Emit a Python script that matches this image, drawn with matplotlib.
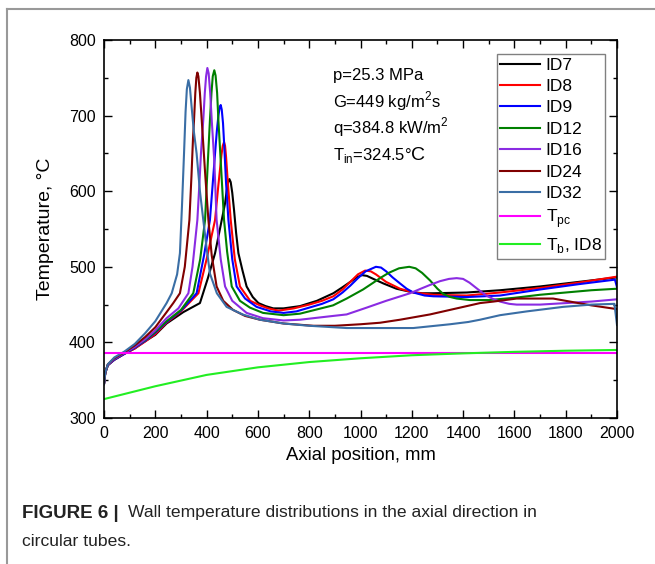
import matplotlib
matplotlib.use("Agg")
import matplotlib.pyplot as plt
from matplotlib.lines import Line2D
from matplotlib.ticker import MultipleLocator

plt.rcParams["font.family"] = ["Liberation Sans", "DejaVu Sans"]
plt.rcParams["mathtext.fontset"] = "custom"
plt.rcParams["mathtext.rm"] = "Liberation Sans"

# ===================== data =====================
id7_x = [0, 5, 15, 40, 80, 120, 153, 200, 244, 309, 374, 405, 433, 452, 472, 478, 483, 489, 494,
         500, 507, 515, 524, 540, 556, 580, 602, 630, 660, 700, 764, 830, 894, 930, 960, 985,
         1005, 1025, 1050, 1089, 1140, 1193, 1240, 1284, 1414, 1544, 1700, 1850, 2000]
id7_y = [345, 360, 370, 377, 385, 392, 400, 410, 425, 440, 452, 485, 518, 550, 584, 600, 611, 616, 612,
         598, 575, 545, 518, 495, 474, 460, 452, 448, 445, 445, 448, 455, 465, 473, 480, 486,
         489, 488, 484, 478, 471, 467, 465, 465, 466, 469, 474, 480, 486]

id8_x = [0, 5, 15, 40, 80, 120, 160, 200, 244, 300, 368, 400, 433, 445, 452, 458, 463, 468, 472,
         476, 482, 494, 510, 530, 570, 608, 640, 680, 740, 800, 850, 894, 930, 960, 990, 1018,
         1040, 1060, 1100, 1154, 1206, 1284, 1414, 1544, 1700, 1850, 2000]
id8_y = [345, 360, 370, 377, 385, 392, 401, 411, 426, 441, 465, 510, 562, 605, 628, 648, 660, 665, 660,
         645, 615, 562, 510, 474, 455, 449, 445, 442, 445, 450, 455, 461, 470, 480, 490, 495,
         494, 490, 480, 471, 466, 463, 462, 466, 472, 479, 487]

id9_x = [0, 5, 15, 40, 80, 120, 160, 200, 244, 300, 361, 390, 413, 425, 433, 440, 446, 451, 455,
         459, 464, 468, 476, 485, 500, 517, 550, 595, 650, 700, 750, 800, 850, 894, 930, 960,
         990, 1020, 1060, 1080, 1100, 1125, 1154, 1180, 1206, 1250, 1284, 1414, 1544, 1700,
         1850, 1992, 2000]
id9_y = [345, 360, 370, 377, 385, 393, 402, 413, 427, 442, 465, 515, 562, 615, 650, 680, 700, 711, 714,
         708, 690, 665, 610, 562, 510, 474, 458, 447, 441, 439, 441, 446, 451, 457, 466, 475,
         485, 494, 500, 499, 494, 486, 478, 471, 466, 462, 461, 460, 462, 470,
         477, 483, 473]

id12_x = [0, 5, 15, 40, 80, 120, 160, 200, 244, 300, 348, 375, 394, 405, 413, 419, 424, 430, 435,
          441, 446, 455, 468, 480, 498, 530, 569, 620, 700, 764, 893, 946, 1010, 1050, 1076,
          1110, 1150, 1190, 1215, 1240, 1271, 1300, 1323, 1350, 1375, 1427, 1500, 1600, 1700,
          1800, 1900, 2000]
id12_y = [345, 360, 370, 378, 386, 394, 403, 414, 428, 443, 465, 510, 562, 640, 694, 730, 752, 760, 753,
          730, 694, 640, 562, 520, 474, 455, 446, 439, 436, 438, 449, 458, 470, 479, 485,
          492, 498, 500, 498, 492, 482, 471, 464, 460, 458, 456, 456, 459, 463,
          466, 469, 471]

id16_x = [0, 5, 15, 40, 80, 120, 160, 200, 244, 290, 329, 345, 364, 372, 378, 387, 393, 398, 403,
          408, 414, 420, 430, 439, 455, 472, 500, 556, 620, 700, 764, 893, 946, 1024, 1100, 1193,
          1235, 1271, 1310, 1345, 1375, 1400, 1425, 1455, 1490, 1520, 1544, 1580, 1609, 1700,
          1800, 1900, 2000]
id16_y = [345, 360, 370, 378, 386, 394, 404, 416, 432, 445, 465, 500, 562, 610, 650, 694, 730, 752, 763,
          756, 730, 694, 640, 562, 510, 474, 455, 439, 432, 429, 430, 435, 437, 446, 455, 465,
          471, 476, 481, 484, 485, 484, 479, 471, 462, 457, 454, 451, 450, 450,
          452, 454, 457]

id24_x = [0, 5, 15, 40, 80, 120, 160, 200, 244, 270, 296, 315, 333, 341, 347, 351, 356, 360, 364,
          368, 374, 381, 395, 407, 420, 439, 465, 503, 550, 608, 700, 816, 900, 1000, 1076, 1154,
          1271, 1388, 1466, 1518, 1609, 1700, 1751, 1800, 1900, 2000]
id24_y = [345, 360, 371, 379, 387, 396, 407, 420, 440, 452, 465, 500, 562, 620, 670, 694, 730, 750, 757,
          752, 730, 694, 620, 562, 515, 474, 455, 443, 435, 430, 425, 422, 422, 424, 426, 430,
          437, 446, 452, 454, 458, 458, 458, 455, 449, 444]

id32_x = [0, 5, 15, 40, 80, 120, 160, 200, 244, 264, 285, 296, 304, 312, 318, 323, 329, 335, 342,
          350, 361, 374, 387, 400, 413, 440, 478, 540, 608, 700, 800, 946, 1076, 1206, 1349,
          1420, 1466, 1544, 1648, 1790, 1900, 1990, 2000]
id32_y = [345, 360, 371, 380, 388, 398, 412, 428, 452, 465, 490, 518, 580, 650, 705, 735, 747, 737, 710,
          680, 650, 600, 562, 525, 491, 465, 447, 437, 430, 425, 422, 419, 419, 419, 424,
          427, 430, 436, 441, 447, 450, 451, 423]

tpc_x = [0, 2000]
tpc_y = [386.5, 386.5]

tb_x = [0, 200, 400, 600, 800, 1000, 1200, 1400, 1600, 1800, 2000]
tb_y = [325, 342, 357, 367, 374, 379, 383, 385.5, 387.5, 389, 390]

series = [
    (id7_x, id7_y, "#000000", "ID7"),
    (id8_x, id8_y, "#ff0000", "ID8"),
    (id9_x, id9_y, "#0000ff", "ID9"),
    (id12_x, id12_y, "#008000", "ID12"),
    (id16_x, id16_y, "#8a2be2", "ID16"),
    (id24_x, id24_y, "#800000", "ID24"),
    (id32_x, id32_y, "#3a6ea5", "ID32"),
    (tpc_x, tpc_y, "#ff00ff", r"T$_{\rm pc}$"),
    (tb_x, tb_y, "#22ee22", r"T$_{\rm b}$, ID8"),
]

# ===================== figure =====================
fig = plt.figure(figsize=(6.55, 5.64), dpi=100)
ax = fig.add_axes([104 / 655, 146 / 564, 513 / 655, 378 / 564])

for xs, ys, col, lab in series:
    ax.plot(xs, ys, color=col, lw=1.5, label=lab)

ax.set_xlim(0, 2000)
ax.set_ylim(300, 800)
ax.xaxis.set_major_locator(MultipleLocator(200))
ax.xaxis.set_minor_locator(MultipleLocator(100))
ax.yaxis.set_major_locator(MultipleLocator(100))
ax.yaxis.set_minor_locator(MultipleLocator(50))
ax.tick_params(which="both", direction="in", top=True, right=True, labelsize=11.5, width=1)
ax.tick_params(which="major", length=6, pad=6)
ax.tick_params(which="minor", length=3)
for sp in ax.spines.values():
    sp.set_linewidth(1.2)

ax.set_xlabel("Axial position, mm", fontsize=13.3, labelpad=4)
ax.set_ylabel("Temperature, \u00b0C", fontsize=14, labelpad=11)

# conditions
tx = 0.447
ax.text(tx, 0.894, "p=25.3 MPa", transform=ax.transAxes, fontsize=12)
ax.text(tx, 0.823, "G=449 kg/m$^2$s", transform=ax.transAxes, fontsize=12)
ax.text(tx, 0.753, "q=384.8 kW/m$^2$", transform=ax.transAxes, fontsize=12)
ax.text(tx, 0.683, "T$_{\\rm in}$=324.5\u00b0", transform=ax.transAxes, fontsize=12)
ax.text(tx + 0.152, 0.683, "C", transform=ax.transAxes, fontsize=14)

leg = ax.legend(loc="upper left", bbox_to_anchor=(0.766, 0.963), borderaxespad=0,
                fontsize=12.5, handlelength=2.3, handletextpad=0.3, labelspacing=0.36,
                borderpad=0.2, fancybox=False, framealpha=1)
leg.get_frame().set_edgecolor("#808080")
leg.get_frame().set_linewidth(1)

# outer grey frame
fig.add_artist(Line2D([7 / 655, 1], [1 - 9 / 564, 1 - 9 / 564], color="#999999", lw=1.5))
fig.add_artist(Line2D([7 / 655, 7 / 655], [0, 1 - 9 / 564], color="#999999", lw=1.5))

# caption
fig.text(22 / 655, 1 - 513 / 564, "FIGURE 6 |", fontsize=13.5, fontweight="bold",
         color="#222222", va="center")
fig.text(128 / 655, 1 - 513 / 564, "Wall temperature distributions in the axial direction in",
         fontsize=12.6, color="#222222", va="center")
fig.text(22 / 655, 1 - 541 / 564, "circular tubes.", fontsize=12.6, color="#222222", va="center")

fig.savefig("out.png", dpi=100)
